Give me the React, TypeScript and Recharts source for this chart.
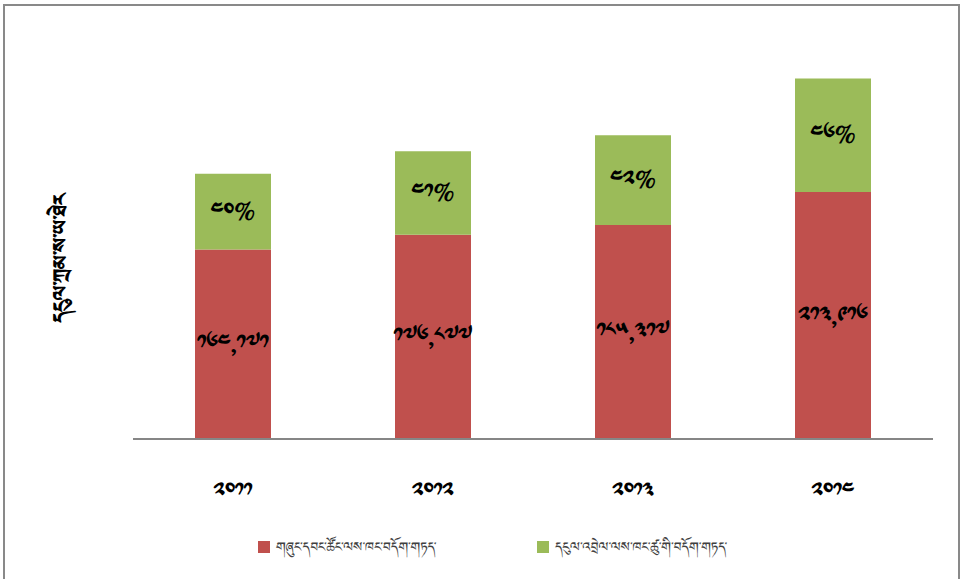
import React from "react";
import { BarChart, Bar, XAxis, YAxis, LabelList } from "recharts";

const categories = ["༢༠༡༡", "༢༠༡༢", "༢༠༡༣", "༢༠༡༤"];
const govValues = [164171, 176877, 185317, 213916];
const finValues = [65700, 72500, 77800, 98400];
const finPctLabels = ["༤༠%", "༤༡%", "༤༢%", "༤༦%"];
const seriesNames = [
  "གཞུང་དབང་ཚོང་ལས་ཁང་བདོག་གཏད་",
  "དངུལ་འབྲེལ་ལས་ཁང་ཚུ་གི་བདོག་གཏད་",
];
const yTitle = "དངུལ་ཀྲམ་ས་ཡ་ཐེར";

const RED = "#C0504D";
const GREEN = "#9BBB59";
const FONT = '"Noto Sans Tibetan", "Jomolhari", "Microsoft Himalaya", "DejaVu Sans", sans-serif';

const tibDigits = "༠༡༢༣༤༥༦༧༨༩";
const toTib = (n: number) =>
  n
    .toLocaleString("en-US")
    .split("")
    .map((c) => (c >= "0" && c <= "9" ? tibDigits[Number(c)] : c))
    .join("");

const data = categories.map((c, i) => ({
  year: c,
  gov: govValues[i],
  fin: finValues[i],
  pct: finPctLabels[i],
}));

const XTick = (props: any) => {
  const { x, y, payload } = props;
  return (
    <text x={x} y={y + 52} textAnchor="middle" fontFamily={FONT} fontSize={22} fontWeight="bold" fill="#000">
      {payload.value}
    </text>
  );
};

export default function App() {
  return (
    <div style={{ position: "absolute", left: 0, top: 0, width: 962, height: 579, background: "#fff", overflow: "hidden" }}>
      <div
        style={{
          position: "absolute",
          left: 3,
          top: 4,
          width: 957,
          height: 590,
          border: "2px solid #898989",
          boxSizing: "border-box",
        }}
      />
      <BarChart
        width={962}
        height={579}
        data={data}
        margin={{ top: 35, right: 29, bottom: 110, left: 133 }}
        barCategoryGap="31%"
      >
        <XAxis
          dataKey="year"
          axisLine={{ stroke: "#868686", strokeWidth: 2 }}
          tickLine={false}
          tick={<XTick />}
          height={30}
        />
        <YAxis hide domain={[0, 350000]} />
        <Bar dataKey="gov" stackId="a" fill={RED} isAnimationActive={false}>
          <LabelList
            dataKey="gov"
            position="center"
            formatter={(v: any) => toTib(Number(v))}
            style={{ fontFamily: FONT, fontSize: 23, fontWeight: "bold", fill: "#000" }}
          />
        </Bar>
        <Bar dataKey="fin" stackId="a" fill={GREEN} isAnimationActive={false}>
          <LabelList
            dataKey="pct"
            position="center"
            style={{ fontFamily: FONT, fontSize: 23, fontWeight: "bold", fill: "#000" }}
          />
        </Bar>
      </BarChart>
      <div
        style={{
          position: "absolute",
          left: 62,
          top: 258,
          transform: "translate(-50%, -50%) rotate(-90deg)",
          whiteSpace: "nowrap",
          fontFamily: FONT,
          fontSize: 25,
          fontWeight: "bold",
          color: "#000",
        }}
      >
        {yTitle}
      </div>
      <div style={{ position: "absolute", left: 258, top: 541, width: 12, height: 12, background: RED }} />
      <div
        style={{ position: "absolute", left: 276, top: 536, fontFamily: FONT, fontSize: 17, color: "#404040", whiteSpace: "nowrap", lineHeight: "24px" }}
      >
        {seriesNames[0]}
      </div>
      <div style={{ position: "absolute", left: 537, top: 541, width: 12, height: 12, background: GREEN }} />
      <div
        style={{ position: "absolute", left: 555, top: 536, fontFamily: FONT, fontSize: 17, color: "#404040", whiteSpace: "nowrap", lineHeight: "24px" }}
      >
        {seriesNames[1]}
      </div>
    </div>
  );
}
